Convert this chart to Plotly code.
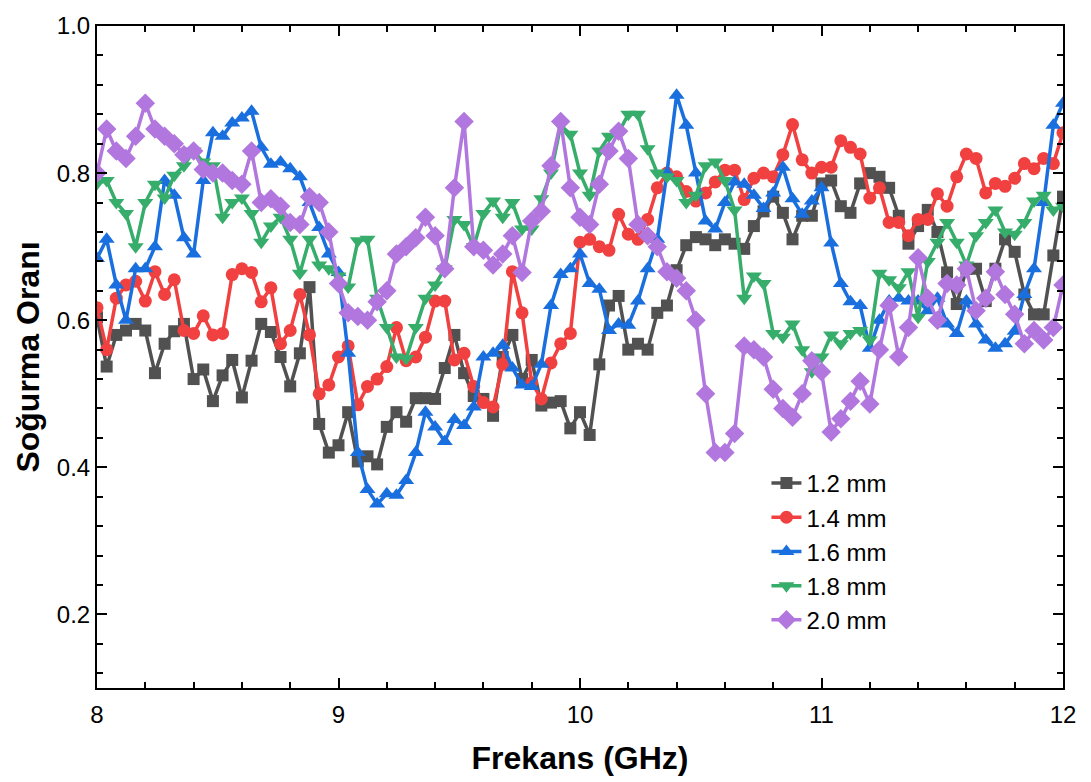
import numpy as np
import plotly.graph_objects as go

# Frequency grid (GHz)
freq = np.round(np.arange(8.0, 12.0001, 0.04), 2)

abs_12 = [0.604, 0.537, 0.58, 0.586, 0.595, 0.586, 0.528, 0.568, 0.585, 0.595,
          0.52, 0.533, 0.49, 0.525, 0.546, 0.495, 0.545, 0.595, 0.584, 0.55,
          0.51, 0.555, 0.645, 0.459, 0.42, 0.43, 0.475, 0.408, 0.415, 0.404,
          0.455, 0.475, 0.462, 0.494, 0.494, 0.493, 0.535, 0.58, 0.528, 0.497,
          0.493, 0.47, 0.55, 0.58, 0.52, 0.546, 0.484, 0.488, 0.49, 0.453,
          0.475, 0.444, 0.54, 0.62, 0.633, 0.56, 0.568, 0.56, 0.61, 0.62,
          0.668, 0.702, 0.713, 0.71, 0.702, 0.71, 0.704, 0.697, 0.728, 0.748,
          0.768, 0.746, 0.71, 0.742, 0.742, 0.786, 0.79, 0.755, 0.746, 0.786,
          0.80, 0.795, 0.78, 0.742, 0.704, 0.728, 0.75, 0.72, 0.665, 0.622,
          0.67, 0.67, 0.626, 0.67, 0.71, 0.693, 0.635, 0.608, 0.608, 0.688,
          0.768]

abs_14 = [0.617, 0.56, 0.63, 0.648, 0.653, 0.626, 0.666, 0.635, 0.655, 0.586,
          0.582, 0.606, 0.58, 0.582, 0.662, 0.67, 0.665, 0.625, 0.644, 0.568,
          0.586, 0.635, 0.58, 0.50, 0.512, 0.55, 0.565, 0.485, 0.51, 0.52,
          0.537, 0.59, 0.545, 0.55, 0.577, 0.626, 0.626, 0.546, 0.555, 0.51,
          0.488, 0.482, 0.54, 0.666, 0.61, 0.515, 0.493, 0.542, 0.568, 0.582,
          0.706, 0.71, 0.70, 0.695, 0.744, 0.717, 0.71, 0.737, 0.78, 0.80,
          0.795, 0.775, 0.762, 0.773, 0.788, 0.804, 0.804, 0.764, 0.793, 0.80,
          0.795, 0.825, 0.866, 0.818, 0.80, 0.808, 0.808, 0.844, 0.835, 0.826,
          0.766, 0.78, 0.733, 0.733, 0.715, 0.737, 0.737, 0.772, 0.755, 0.795,
          0.826, 0.82, 0.773, 0.786, 0.782, 0.793, 0.813, 0.806, 0.82, 0.813,
          0.855]

abs_16 = [0.684, 0.71, 0.648, 0.60, 0.67, 0.67, 0.70, 0.79, 0.77, 0.712,
          0.69, 0.79, 0.855, 0.85, 0.868, 0.875, 0.884, 0.835, 0.812, 0.815,
          0.806, 0.795, 0.76, 0.726, 0.69, 0.665, 0.555, 0.42, 0.37, 0.35,
          0.364, 0.362, 0.382, 0.42, 0.475, 0.455, 0.435, 0.465, 0.457, 0.482,
          0.55, 0.555, 0.566, 0.535, 0.512, 0.51, 0.54, 0.62, 0.662, 0.67,
          0.69, 0.65, 0.642, 0.586, 0.595, 0.593, 0.626, 0.67, 0.71, 0.80,
          0.906, 0.865, 0.80, 0.735, 0.724, 0.76, 0.788, 0.785, 0.77, 0.752,
          0.773, 0.808, 0.765, 0.744, 0.762, 0.78, 0.705, 0.65, 0.625, 0.62,
          0.562, 0.60, 0.626, 0.63, 0.626, 0.626, 0.613, 0.63, 0.595, 0.582,
          0.626, 0.595, 0.573, 0.562, 0.568, 0.585, 0.635, 0.67, 0.76, 0.865,
          0.895]

abs_18 = [0.786, 0.79, 0.76, 0.745, 0.70, 0.76, 0.785, 0.766, 0.797, 0.81,
          0.83, 0.815, 0.81, 0.74, 0.76, 0.766, 0.745, 0.706, 0.728, 0.74,
          0.71, 0.664, 0.71, 0.675, 0.67, 0.66, 0.645, 0.708, 0.71, 0.63,
          0.59, 0.55, 0.548, 0.59, 0.63, 0.648, 0.67, 0.737, 0.73, 0.70,
          0.745, 0.762, 0.74, 0.76, 0.724, 0.724, 0.765, 0.80, 0.865, 0.853,
          0.80, 0.77, 0.83, 0.85, 0.855, 0.88, 0.88, 0.833, 0.80, 0.795,
          0.79, 0.76, 0.77, 0.81, 0.815, 0.79, 0.75, 0.63, 0.66, 0.65,
          0.582, 0.577, 0.595, 0.56, 0.53, 0.55, 0.58, 0.568, 0.582, 0.586,
          0.573, 0.664, 0.655, 0.644, 0.666, 0.604, 0.68, 0.706, 0.733, 0.706,
          0.675, 0.715, 0.733, 0.75, 0.72, 0.717, 0.733, 0.762, 0.77, 0.75,
          0.755]

abs_20 = [0.80, 0.86, 0.83, 0.82, 0.85, 0.895, 0.86, 0.85, 0.84, 0.825,
          0.83, 0.805, 0.80, 0.80, 0.79, 0.785, 0.83, 0.76, 0.765, 0.755,
          0.733, 0.73, 0.768, 0.76, 0.72, 0.65, 0.61, 0.605, 0.60, 0.625,
          0.64, 0.69, 0.70, 0.712, 0.74, 0.715, 0.67, 0.78, 0.87, 0.70,
          0.695, 0.675, 0.69, 0.715, 0.665, 0.735, 0.748, 0.81, 0.87, 0.78,
          0.74, 0.73, 0.785, 0.83, 0.857, 0.82, 0.73, 0.715, 0.70, 0.666,
          0.657, 0.64, 0.60, 0.50, 0.42, 0.42, 0.446, 0.565, 0.56, 0.55,
          0.506, 0.48, 0.468, 0.50, 0.545, 0.53, 0.448, 0.466, 0.49, 0.517,
          0.486, 0.56, 0.62, 0.55, 0.59, 0.685, 0.63, 0.60, 0.65, 0.648,
          0.67, 0.613, 0.63, 0.666, 0.635, 0.608, 0.568, 0.586, 0.573, 0.59,
          0.648]

names = ["1.2 mm", "1.4 mm", "1.6 mm", "1.8 mm", "2.0 mm"]
series = [abs_12, abs_14, abs_16, abs_18, abs_20]
colors = ["#515151", "#F14040", "#1A6FDF", "#37AD6B", "#B177DE"]
symbols = ["square", "circle", "triangle-up", "triangle-down", "diamond"]
sizes = [12, 13, 14, 14, 15]

FONT = "Liberation Sans, Arial, sans-serif"

fig = go.Figure()
for i, (name, ys) in enumerate(zip(names, series)):
    assert len(ys) == len(freq)
    fig.add_trace(go.Scatter(
        x=freq, y=ys, name=name, mode="lines+markers",
        line=dict(color=colors[i], width=3.5),
        marker=dict(symbol=symbols[i], size=sizes[i], color=colors[i],
                    line=dict(width=0)),
        legendgroup=name,
    ))

tick_font = dict(family=FONT, size=24, color="black")
title_font = dict(family=FONT, size=32, color="black")

fig.update_layout(
    width=1091, height=782,
    margin=dict(l=97, r=28, t=13, b=94),
    paper_bgcolor="white", plot_bgcolor="white",
    font=tick_font,
    showlegend=True,
    legend=dict(
        x=0.693, y=0.343, xanchor="left", yanchor="top",
        bgcolor="rgba(0,0,0,0)", borderwidth=0,
        font=dict(family=FONT, size=24, color="black"),
        traceorder="grouped", tracegroupgap=0,
    ),
    xaxis=dict(
        range=[8, 12], tickvals=[8, 9, 10, 11, 12],
        ticks="inside", ticklen=10, tickwidth=2, tickcolor="black",
        minor=dict(dtick=0.2, tick0=8, ticks="inside", ticklen=6, tickwidth=1.5, tickcolor="black"),
        showline=True, linewidth=2, linecolor="black", mirror="ticks",
        showgrid=False, zeroline=False,
        tickfont=tick_font, ticklabelstandoff=4, ticklabeloverflow="allow",
        title=dict(text="<b>Frekans (GHz)</b>", standoff=20, font=title_font),
    ),
    yaxis=dict(
        range=[0.1, 1.0], tickvals=[0.2, 0.4, 0.6, 0.8, 1.0],
        ticktext=["0.2", "0.4", "0.6", "0.8", "1.0"],
        ticks="inside", ticklen=10, tickwidth=2, tickcolor="black",
        minor=dict(dtick=0.04, tick0=0.0, ticks="inside", ticklen=6, tickwidth=1.5, tickcolor="black"),
        showline=True, linewidth=2, linecolor="black", mirror="ticks",
        showgrid=False, zeroline=False,
        tickfont=tick_font, ticklabeloverflow="allow",
        title=dict(text="<b>Soğurma Oranı</b>", standoff=8, font=title_font),
    ),
)

fig.write_html("out.html")
